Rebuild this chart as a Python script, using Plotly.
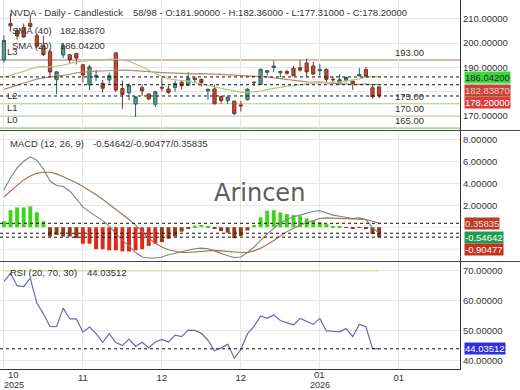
import plotly.graph_objects as go

# ---------------- data ----------------
bar_index = list(range(58))
opens = [193.05, 207.98, 205.15, 206.45, 208.08, 203.00, 198.77, 196.42, 184.90, 195.10,
         195.16, 195.72, 191.05, 182.86, 185.97, 183.38, 184.79, 195.95, 181.24, 179.49,
         174.91, 181.63, 179.01, 174.76, 181.76, 181.08, 181.62, 183.89, 182.64, 185.56,
         184.97, 180.28, 181.11, 177.94, 176.26, 176.10, 174.53, 176.67, 183.92, 182.97,
         187.94, 189.92, 187.71, 188.24, 189.57, 189.84, 191.76, 190.52, 188.57, 189.11,
         185.08, 183.22, 184.68, 184.32, 186.50, 189.08, 181.60, 181.90]
highs = [203.15, 212.19, 206.16, 207.97, 211.34, 203.97, 202.92, 197.62, 188.32, 199.94,
         195.42, 195.89, 191.44, 191.01, 189.00, 184.80, 187.86, 196.00, 184.56, 183.50,
         178.16, 182.91, 179.29, 180.30, 185.66, 182.45, 184.52, 184.66, 188.00, 185.72,
         185.48, 181.32, 182.82, 178.42, 178.49, 176.13, 176.15, 181.45, 184.16, 189.33,
         188.91, 192.69, 188.76, 188.99, 190.56, 192.93, 193.63, 192.17, 191.37, 189.55,
         186.34, 187.12, 186.28, 184.48, 189.69, 190.18, 182.60, 182.36]
lows = [191.91, 204.78, 201.41, 202.07, 205.56, 197.93, 194.65, 186.38, 178.91, 193.79,
        191.30, 191.13, 183.85, 180.58, 184.32, 179.65, 182.83, 179.85, 172.93, 176.48,
        169.55, 178.24, 176.50, 173.68, 180.00, 179.11, 179.96, 180.91, 182.40, 183.32,
        182.04, 176.62, 174.62, 175.03, 174.90, 170.31, 171.82, 176.34, 182.35, 182.90,
        186.59, 188.00, 185.91, 186.93, 186.49, 188.26, 186.15, 186.82, 186.56, 183.71,
        183.67, 183.02, 183.76, 180.75, 186.12, 186.05, 177.20, 177.31]
closes = [201.03, 207.04, 202.89, 202.49, 206.88, 198.69, 195.21, 188.08, 188.15, 199.05,
          193.16, 193.80, 186.86, 190.17, 186.60, 181.36, 186.52, 180.64, 178.88, 182.55,
          177.82, 180.26, 177.00, 179.92, 181.46, 179.59, 183.38, 182.41, 185.55, 184.97,
          183.78, 180.93, 175.02, 176.29, 177.72, 170.94, 174.14, 180.99, 183.69, 189.21,
          188.61, 190.53, 188.22, 187.54, 186.50, 188.85, 188.12, 187.24, 189.11, 185.04,
          184.86, 184.94, 185.81, 183.14, 187.05, 186.23, 177.90, 178.20]
sma20 = [185.87, 186.86, 187.56, 188.30, 189.37, 190.05, 190.36, 190.13, 190.38, 190.92,
         191.58, 192.27, 192.53, 192.87, 193.07, 193.08, 193.39, 193.32, 192.95, 192.50,
         191.34, 190.00, 188.71, 187.58, 186.31, 185.35, 184.76, 184.48, 184.35, 183.65,
         183.18, 182.53, 181.94, 181.25, 180.80, 180.28, 179.66, 179.68, 179.92, 180.25,
         180.79, 181.31, 181.87, 182.25, 182.50, 182.96, 183.20, 183.44, 183.62, 183.62,
         183.68, 183.88, 184.42, 184.76, 185.23, 185.99, 186.18, 186.042]
sma40 = [180.93, 181.84, 182.62, 183.51, 184.47, 185.17, 185.62, 185.89, 186.15, 186.68,
         187.14, 187.73, 187.99, 188.33, 188.40, 188.48, 188.72, 188.79, 188.81, 188.83,
         188.61, 188.43, 188.13, 187.94, 187.84, 187.70, 187.56, 187.31, 187.37, 187.28,
         187.38, 187.40, 187.23, 187.06, 186.94, 186.68, 186.53, 186.50, 186.44, 186.38,
         186.07, 185.65, 185.29, 184.91, 184.40, 184.16, 183.98, 183.96, 183.98, 183.63,
         183.43, 183.21, 183.18, 183.00, 183.01, 183.14, 182.92, 182.8387]
macd_line = [3.4, 4.5, 5.4, 6.0, 6.4, 6.1, 5.3, 4.2, 3.8, 3.7,
             3.3, 2.6, 1.85, 1.4, 1.0, 0.6, 0.1, -0.6, -1.2, -1.7,
             -2.3, -2.7, -2.8, -2.8, -2.7, -2.5, -2.35, -2.2, -2.1, -1.95,
             -1.9, -1.95, -2.15, -2.4, -2.6, -2.75, -2.7, -2.3, -1.8, -1.2,
             -0.6, -0.1, 0.4, 0.7, 0.95, 1.1, 1.3, 1.45, 1.5, 1.3,
             1.1, 1.0, 0.9, 0.8, 0.85, 0.7, -0.04, -0.54642]
macd_signal = [2.75, 3.3, 3.8, 4.3, 4.65, 4.9, 5.0, 5.0, 4.85, 4.6,
               4.35, 4.05, 3.7, 3.35, 2.95, 2.55, 2.1, 1.65, 1.2, 0.7,
               0.2, -0.4, -1.0, -1.45, -1.8, -2.05, -2.2, -2.3, -2.3, -2.25,
               -2.15, -2.1, -2.1, -2.15, -2.2, -2.3, -2.3, -2.3, -2.15, -1.9,
               -1.6, -1.2, -0.8, -0.4, -0.1, 0.2, 0.4, 0.6, 0.8, 0.85,
               0.83, 0.8, 0.77, 0.74, 0.72, 0.7, 0.55, 0.35835]
macd_hist = [0.55, 1.55, 1.8, 1.8, 1.9, 1.36, 0.55, -0.85, -0.7, -0.85,
             -0.85, -1.0, -1.5, -1.5, -2.0, -2.0, -2.1, -2.1, -2.2, -2.2,
             -2.1, -2.0, -1.7, -1.5, -1.35, -1.05, -0.85, -0.4, -0.1, 0.15,
             0.2, 0.1, -0.15, -0.35, -0.5, -1.0, -0.8, -0.3, 0.2, 0.9,
             1.5, 1.55, 1.35, 1.2, 1.1, 1.0, 0.8, 0.6, 0.45, 0.3,
             0.1, 0.05, -0.05, -0.15, -0.05, -0.1, -0.62, -0.90477]
rsi = [66.5, 69.2, 65.1, 64.8, 67.6, 59.3, 55.7, 51.4, 51.5, 57.6,
       54.0, 54.0, 49.6, 51.3, 49.1, 46.2, 49.1, 46.1, 45.1, 47.3,
       44.8, 46.2, 44.4, 46.3, 47.2, 46.3, 48.6, 48.1, 50.3, 50.2,
       49.2, 46.9, 43.4, 44.3, 45.6, 40.9, 43.8, 49.0, 51.5, 55.0,
       54.2, 55.3, 53.5, 52.8, 52.0, 54.2, 53.3, 52.2, 54.2, 50.0,
       49.9, 49.7, 50.8, 48.1, 52.2, 51.4, 44.2, 44.03512]
rsi_upper = 70
levels = [193, 175, 170, 165]
level_names = ["L3", "L2", "L1", "L0"]
level_colors = ["#b07262", "#a8d08c", "#a9ad74", "#8cc46e"]
tick_positions = [0, 12, 24, 36, 48, 60]
tick_labels = ["", "11", "12", "12", "", "01"]
year_ticks = [(0, "10", "2025"), (48, "01", "2026")]   # month + year stacked labels
price_ticks = [170, 190, 200, 210]        # 180 is hidden behind the value boxes
price_grid_hidden = [180]
macd_ticks = [2, 4, 6, 8]                 # 0 and -2 are hidden behind the value boxes
macd_grid_hidden = [0, -2]
rsi_ticks = [40, 50, 60, 70]

# ---------------- layout helpers ----------------
W, H = 520, 390
PLOT_W, PLOT_H = 460, 369
FONT = "Liberation Sans, Arial, sans-serif"
FS = 9.5
TXT = "#333333"
GRID = "#e6e6e6"


def py(ypx):
    return (PLOT_H - ypx) / PLOT_H


def px(xpx):
    return xpx / PLOT_W


fig = go.Figure()

# main panel
fig.add_trace(go.Candlestick(
    x=bar_index, open=opens, high=highs, low=lows, close=closes,
    increasing=dict(line=dict(color="#2f5f58", width=1), fillcolor="#5a9c92"),
    decreasing=dict(line=dict(color="#7a3526", width=1), fillcolor="#c6463a"),
    xaxis="x", yaxis="y", whiskerwidth=0))
fig.add_trace(go.Scatter(x=bar_index, y=sma40, mode="lines",
                         line=dict(color="#b58a72", width=1.2), xaxis="x", yaxis="y"))
fig.add_trace(go.Scatter(x=bar_index, y=sma20, mode="lines",
                         line=dict(color="#aacb84", width=1.2), xaxis="x", yaxis="y"))

# MACD panel
hist_colors = []
for h in macd_hist:
    if h >= 0:
        hist_colors.append("#3fd41c")
    elif h <= -1.4:
        hist_colors.append("#de2a1a")
    else:
        hist_colors.append("#943a14")
fig.add_trace(go.Bar(x=bar_index, y=macd_hist, marker=dict(color=hist_colors, line=dict(width=0)),
                     width=0.6, xaxis="x2", yaxis="y2"))
fig.add_trace(go.Scatter(x=bar_index, y=macd_line, mode="lines",
                         line=dict(color="#78867c", width=1.1), xaxis="x2", yaxis="y2"))
fig.add_trace(go.Scatter(x=bar_index, y=macd_signal, mode="lines",
                         line=dict(color="#a0705a", width=1.1), xaxis="x2", yaxis="y2"))

# RSI panel
fig.add_trace(go.Scatter(x=bar_index, y=[rsi_upper] * len(bar_index), mode="lines",
                         line=dict(color="#d9d98e", width=1.2), xaxis="x3", yaxis="y3"))
fig.add_trace(go.Scatter(x=bar_index, y=rsi, mode="lines",
                         line=dict(color="#6868b8", width=1.2), xaxis="x3", yaxis="y3"))

shapes = []
for v in price_grid_hidden:
    shapes.append(dict(type="line", xref="paper", yref="y", x0=0, x1=1, y0=v, y1=v,
                       line=dict(color=GRID, width=1), layer="below"))
for v in macd_grid_hidden:
    shapes.append(dict(type="line", xref="paper", yref="y2", x0=0, x1=1, y0=v, y1=v,
                       line=dict(color=GRID, width=1), layer="below"))
for lv, col in zip(levels, level_colors):
    shapes.append(dict(type="line", xref="paper", yref="y", x0=0, x1=1, y0=lv, y1=lv,
                       line=dict(color=col, width=1.2), layer="below"))
for v in [sma20[-1], sma40[-1], closes[-1]]:
    shapes.append(dict(type="line", xref="paper", yref="y", x0=0, x1=1, y0=v, y1=v,
                       line=dict(color="#111111", width=1, dash="3px,3px")))
for v in [macd_signal[-1], macd_line[-1], macd_hist[-1]]:
    shapes.append(dict(type="line", xref="paper", yref="y2", x0=0, x1=1, y0=v, y1=v,
                       line=dict(color="#111111", width=1, dash="3px,3px")))
shapes.append(dict(type="line", xref="paper", yref="y3", x0=0, x1=1, y0=rsi[-1], y1=rsi[-1],
                   line=dict(color="#111111", width=1, dash="3px,3px")))
for ypx in [130.5, 261.5]:
    shapes.append(dict(type="line", xref="paper", yref="paper", x0=0, x1=W / PLOT_W,
                       y0=py(ypx), y1=py(ypx), line=dict(color="#444444", width=1)))

ann = []


def text(x, y, s, size=FS, color=TXT, xanchor="left", family=FONT, **kw):
    d = dict(xref="paper", yref="paper", x=px(x), y=py(y), text=s, showarrow=False,
             xanchor=xanchor, yanchor="middle", font=dict(family=family, size=size, color=color))
    d.update(kw)
    ann.append(d)


text(8, 12.5, "NVDA - Daily - Candlestick")
text(131, 12.5, "58/98 - O:%.5f - H:%.5f - L:%.5f - C:%.5f" % (opens[-1], highs[-1], lows[-1], closes[-1]))
text(10, 30, "SMA (40)")
text(58, 30, "%.5f" % sma40[-1])
text(10, 45.5, "SMA (20)")
text(58, 45.5, "%.5f" % sma20[-1])
text(8, 143, "MACD (12, 26, 9)")
text(91, 143, "%.5f/%.5f/%.5f" % (macd_line[-1], macd_hist[-1], macd_signal[-1]))
text(8, 273, "RSI (20, 70, 30)")
text(85, 273, "%.5f" % rsi[-1])
text(259, 193, "Arincen", size=24, color="#5c5c5c", xanchor="center", family="DejaVu Sans")

# stacked month/year labels (first one nudged right so it stays inside the page)
for pos, month, year in year_ticks:
    shift = 10 if pos == 0 else 0
    for label, ypx, sz in [(month, 374.5, FS), (year, 385, 9)]:
        ann.append(dict(xref="x3", yref="paper", x=pos, y=py(ypx), text=label, showarrow=False,
                        xanchor="center", yanchor="middle", xshift=shift,
                        font=dict(family=FONT, size=sz, color=TXT)))

for lv, name in zip(levels, level_names):
    ann.append(dict(xref="paper", yref="y", x=px(5), y=lv, text=name, showarrow=False,
                    xanchor="left", yanchor="bottom", yshift=1,
                    font=dict(family=FONT, size=FS, color=TXT)))
    ann.append(dict(xref="paper", yref="y", x=px(409), y=lv, text="%.2f" % lv, showarrow=False,
                    xanchor="center", yanchor="bottom", yshift=0,
                    font=dict(family=FONT, size=FS, color=TXT)))


def vbox(yref, val, bg, fg, yshift=0):
    ann.append(dict(xref="paper", yref=yref, x=px(464), y=val, text="%.5f" % val,
                    showarrow=False, xanchor="left", yanchor="middle", yshift=yshift,
                    bgcolor=bg, borderpad=0, font=dict(family=FONT, size=FS, color=fg)))


vbox("y", sma20[-1], "#3fd640", "#1a2a1a", -1)
vbox("y", sma40[-1], "#c4463a", "#f4c8c4", -6)
vbox("y", closes[-1], "#d8403a", "#ffffff", -7)
vbox("y2", macd_signal[-1], "#b83e2a", "#f8d8d0", 0)
vbox("y2", macd_line[-1], "#1f9c4c", "#ffffff", -4)
vbox("y2", macd_hist[-1], "#c63222", "#ffffff", -12)
vbox("y3", rsi[-1], "#3030dc", "#ffffff", 0)

xcommon = dict(range=[-0.6, 69.3], tickvals=tick_positions, showgrid=True, gridcolor=GRID,
               gridwidth=1, zeroline=False, ticks="", showline=False, fixedrange=True)
ycommon = dict(side="right", showgrid=True, gridcolor=GRID, zeroline=False, ticks="",
               showline=True, linecolor="#333333", linewidth=1, tickformat=".5f",
               tickfont=dict(family=FONT, size=FS, color=TXT))

fig.update_layout(
    width=W, height=H, margin=dict(l=0, r=W - PLOT_W, t=0, b=H - PLOT_H),
    paper_bgcolor="white", plot_bgcolor="white", showlegend=False,
    xaxis=dict(xcommon, anchor="y", showticklabels=False, rangeslider=dict(visible=False)),
    xaxis2=dict(xcommon, anchor="y2", matches="x", showticklabels=False),
    xaxis3=dict(xcommon, anchor="y3", matches="x", showticklabels=True, ticktext=tick_labels,
                showline=True, linecolor="#333333", ticklabelstandoff=0,
                tickfont=dict(family=FONT, size=FS, color=TXT)),
    yaxis=dict(ycommon, domain=[py(130), 1], range=[164.2, 217.7], tickvals=price_ticks, anchor="x"),
    yaxis2=dict(ycommon, domain=[py(261), py(131)], range=[-3.07, 8.75], tickvals=macd_ticks, anchor="x2"),
    yaxis3=dict(ycommon, domain=[0, py(262)], range=[37.3, 73.0], tickvals=rsi_ticks, anchor="x3"),
    shapes=shapes, annotations=ann, bargap=0.4,
)

fig.write_html("out.html", config={"displayModeBar": False})
